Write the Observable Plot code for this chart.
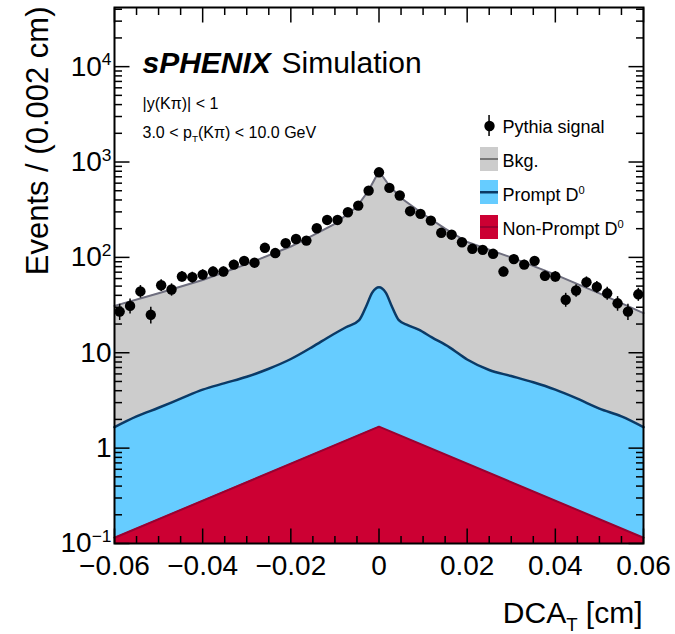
<!DOCTYPE html>
<html><head><meta charset="utf-8">
<script src="https://cdn.jsdelivr.net/npm/d3@7"></script>
<script src="https://cdn.jsdelivr.net/npm/@observablehq/plot@0.6"></script>
<style>
html,body{margin:0;padding:0;background:#fff}
svg{font-family:"Liberation Sans", Arial, Helvetica, sans-serif;background:#fff}
</style>
</head><body><div id="chart"></div>
<script>
const binCenters = [
  -0.058824,-0.056471,-0.054118,-0.051765,-0.049412,-0.047059,-0.044706,-0.042353,-0.040000,-0.037647,
  -0.035294,-0.032941,-0.030588,-0.028235,-0.025882,-0.023529,-0.021176,-0.018824,-0.016471,-0.014118,
  -0.011765,-0.009412,-0.007059,-0.004706,-0.002353, 0,
   0.002353, 0.004706, 0.007059, 0.009412, 0.011765, 0.014118, 0.016471, 0.018824, 0.021176, 0.023529,
   0.025882, 0.028235, 0.030588, 0.032941, 0.035294, 0.037647, 0.040000, 0.042353, 0.044706, 0.047059,
   0.049412, 0.051765, 0.054118, 0.056471, 0.058824];
const signalCounts = [
  27, 31, 44, 25, 51, 46, 63, 62, 66, 71,
  71, 84, 92, 88, 126, 111, 141, 156, 150, 202,
  247, 247, 297, 349, 501, 780,
  535, 445, 305, 286, 243, 181, 173, 144, 123, 120,
  109, 71, 96, 84, 92, 64, 63, 36, 45, 55,
  49, 42, 33, 27, 41];
const totalX = [-0.06,-0.05,-0.04,-0.03,-0.02,-0.015,-0.01,-0.005,-0.0024,0,0.0024,0.005,0.01,0.015,0.02,0.03,0.04,0.05,0.06];
const totalY = [31, 42, 58, 85, 130, 170, 225, 340, 500, 800, 560, 420, 285, 200, 145, 100, 66, 42, 26];
const promptX = [-0.06,-0.055,-0.05,-0.045,-0.04,-0.035,-0.03,-0.025,-0.02,-0.015,-0.011,-0.0075,-0.0045,-0.003,-0.0015,0,
                  0.0015,0.003,0.0045,0.0065,0.009,0.012,0.016,0.02,0.025,0.03,0.035,0.04,0.045,0.05,0.055,0.06];
const promptY = [1.66, 2.15, 2.65, 3.3, 4.1, 4.8, 5.6, 6.8, 8.6, 11.6, 15, 18.5, 22, 30, 43, 48.6,
                 43, 30, 22, 19.5, 17.5, 14.5, 11.4, 8.5, 6.6, 5.7, 4.9, 4.1, 3.3, 2.6, 2.15, 1.66];
const nonPromptX = [-0.06, 0, 0.06];
const nonPromptY = [0.115, 1.68, 0.115];

const xMajorTicks = [-0.06,-0.04,-0.02,0,0.02,0.04,0.06];
const xTickLabels = ["\u22120.06","\u22120.04","\u22120.02","0","0.02","0.04","0.06"];
const xMinorTicks = [-0.055,-0.05,-0.045,-0.035,-0.03,-0.025,-0.015,-0.01,-0.005,0.005,0.01,0.015,0.025,0.03,0.035,0.045,0.05,0.055];
const yMajorTicks = [0.1, 1, 10, 100, 1000, 10000];
const yTickLabels = ["10^{\u22121}","1","10","10^{2}","10^{3}","10^{4}"];
const yMinorTicks = [];
for (const dec of [0.1, 1, 10, 100, 1000, 10000]) for (let m = 2; m <= 9; m++) { const v = m * dec; if (v < 41700) yMinorTicks.push(v); }
const legendLabels = ["Pythia signal", "Bkg.", "Prompt D^{0}", "Non-Prompt D^{0}"];

const W = 675, H = 634, ML = 114, MR = 32, MT = 7, MB = 91;
const PW = W - ML - MR, PH = H - MT - MB;
const X0 = -0.06, X1 = 0.06, Y0 = 0.1, Y1 = 41700;
const box = (x1, x2, y1, y2) => ({insetLeft: x1 - ML, insetRight: (W - MR) - x2, insetTop: y1 - MT, insetBottom: (H - MB) - y2});

const sig = binCenters.map((x, i) => ({x, y: signalCounts[i], e: Math.sqrt(signalCounts[i])}));
const tot = totalX.map((x, i) => ({x, y: totalY[i]}));
const pr = promptX.map((x, i) => ({x, y: promptY[i]}));
const np = nonPromptX.map((x, i) => ({x, y: nonPromptY[i]}));

const GRAY = "#cccccc", GRAYLINE = "#6e6e7e", BLUE = "#66ccff", NAVY = "#0b3a66", RED = "#cc0033", DARKRED = "#9a0030";
const txt = (s, o) => Plot.text([s], {text: d => d, frameAnchor: "top-left", lineAnchor: "bottom", textAnchor: "start", fill: "black", ...o});

// inward tick segments (15 px major, 7.5 px minor), lengths converted to scale units
const decadePx = PH / Math.log10(Y1 / Y0);
const yLen = px => 10 ** (px / decadePx);
const xLen = px => px * (X1 - X0) / PW;
const tickSegs = [];
let sid = 0;
for (const [ticks, px] of [[xMajorTicks, 15], [xMinorTicks, 7.5]]) for (const t of ticks) {
  sid++; tickSegs.push({id: sid, x: t, y: Y0}, {id: sid, x: t, y: Y0 * yLen(px)});
  sid++; tickSegs.push({id: sid, x: t, y: Y1 / yLen(px)}, {id: sid, x: t, y: Y1});
}
for (const [ticks, px] of [[yMajorTicks, 15], [yMinorTicks, 7.5]]) for (const t of ticks) {
  sid++; tickSegs.push({id: sid, x: X0, y: t}, {id: sid, x: X0 + xLen(px), y: t});
  sid++; tickSegs.push({id: sid, x: X1 - xLen(px), y: t}, {id: sid, x: X1, y: t});
}

const chart = Plot.plot({
  width: W, height: H,
  marginLeft: ML, marginRight: MR, marginTop: MT, marginBottom: MB,
  x: {domain: [X0, X1]},
  y: {type: "log", domain: [Y0, Y1]},
  marks: [
    Plot.areaY(tot, {x: "x", y1: Y0, y2: "y", fill: GRAY}),
    Plot.areaY(pr, {x: "x", y1: Y0, y2: "y", fill: BLUE, curve: "monotone-x"}),
    Plot.areaY(np, {x: "x", y1: Y0, y2: "y", fill: RED}),
    Plot.line(np, {x: "x", y: "y", stroke: DARKRED, strokeWidth: 2}),
    Plot.line(pr, {x: "x", y: "y", stroke: NAVY, strokeWidth: 2.5, curve: "monotone-x"}),
    Plot.line(tot, {x: "x", y: "y", stroke: GRAYLINE, strokeWidth: 2}),
    Plot.ruleX(sig, {x: "x", y1: d => d.y - d.e, y2: d => d.y + d.e, stroke: "black", strokeWidth: 1.5}),
    Plot.dot(sig, {x: "x", y: "y", r: 5.2, fill: "black", stroke: "none"}),
    Plot.line(tickSegs, {x: "x", y: "y", z: "id", stroke: "#000000", strokeWidth: 1.5, strokeLinecap: "butt"}),
    Plot.frame({stroke: "black", strokeWidth: 2}),
    Plot.axisX({ticks: xMajorTicks, tickSize: 0, tickPadding: 12, fontSize: 28, label: null,
      tickFormat: d => xTickLabels[xMajorTicks.indexOf(d)]}),
    Plot.axisY({ticks: yMajorTicks, tickSize: 0, tickPadding: 3, fontSize: 28, label: null,
      tickFormat: d => yTickLabels[yMajorTicks.indexOf(d)]}),
    txt("Events / (0.002 cm)", {rotate: -90, textAnchor: "end", dx: 47 - ML, dy: 6 - MT, fontSize: 31}),
    txt("DCA_{T} [cm]", {frameAnchor: "bottom-right", textAnchor: "end", dx: -1, dy: 622 - (H - MB), fontSize: 30}),
    txt("sPHENIX", {dx: 142 - ML, dy: 72 - MT, fontSize: 30, fontWeight: "bold", fontStyle: "italic"}),
    txt("Simulation", {dx: 281 - ML, dy: 72 - MT, fontSize: 30}),
    txt("|y(K\u03c0)| < 1", {dx: 142 - ML, dy: 108 - MT, fontSize: 16}),
    txt("3.0 < p_{T}(K\u03c0) < 10.0 GeV", {dx: 142 - ML, dy: 137 - MT, fontSize: 16}),
    Plot.rect([0], {...box(488.3, 489.8, 115, 136), fill: "black"}),
    Plot.dot([0], {frameAnchor: "top-left", dx: 489 - ML, dy: 125.5 - MT, r: 5.2, fill: "black"}),
    Plot.rect([0], {...box(480, 498, 147, 171), fill: GRAY}),
    Plot.rect([0], {...box(480, 498, 158, 160), fill: "#777777"}),
    Plot.rect([0], {...box(480, 498, 180, 204), fill: BLUE}),
    Plot.rect([0], {...box(480, 498, 191, 193.5), fill: NAVY}),
    Plot.rect([0], {...box(480, 498, 215, 239), fill: RED}),
    Plot.rect([0], {...box(480, 498, 226, 228), fill: DARKRED}),
    txt(legendLabels[0], {dx: 502 - ML, dy: 132 - MT, fontSize: 18}),
    txt(legendLabels[1], {dx: 502 - ML, dy: 166 - MT, fontSize: 18}),
    txt(legendLabels[2], {dx: 502 - ML, dy: 200 - MT, fontSize: 18}),
    txt(legendLabels[3], {dx: 502 - ML, dy: 234 - MT, fontSize: 18})
  ]
});
document.getElementById("chart").appendChild(chart);

// rich text: ^{..} superscript, _{..} subscript
function richText(el) {
  const s = el.textContent;
  if (!/[\^_]\{/.test(s)) return;
  const fs = parseFloat(getComputedStyle(el).fontSize) || 16;
  const parts = s.split(/([\^_]\{[^}]*\})/).filter(p => p.length);
  while (el.firstChild) el.removeChild(el.firstChild);
  let shift = 0;
  for (const p of parts) {
    const t = document.createElementNS("http://www.w3.org/2000/svg", "tspan");
    let target = 0, size = null, content = p;
    if (p.startsWith("^{")) { target = -0.37 * fs; size = 0.62 * fs; content = p.slice(2, -1); }
    else if (p.startsWith("_{")) { target = 0.27 * fs; size = 0.62 * fs; content = p.slice(2, -1); }
    const dy = target - shift;
    if (dy) t.setAttribute("dy", dy.toFixed(2));
    shift = target;
    if (size) t.setAttribute("font-size", size.toFixed(2));
    t.textContent = content;
    el.appendChild(t);
  }
}
chart.querySelectorAll("text").forEach(richText);
</script>
</body></html>
